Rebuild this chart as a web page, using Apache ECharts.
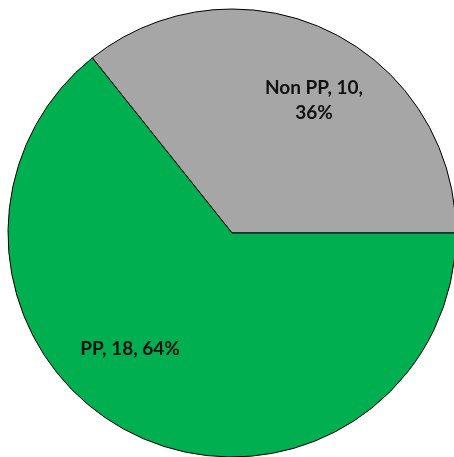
<!DOCTYPE html>
<html>
<head>
<meta charset="utf-8">
<script src="https://cdn.jsdelivr.net/npm/echarts@6/dist/echarts.min.js"></script>
<style>
  html, body { margin: 0; padding: 0; background: #fff; }
  #chart { width: 454px; height: 457px; }
</style>
</head>
<body>
<div id="chart"></div>
<script>
// data
const categories = ['Non PP', 'PP']
const values = [10, 18]
const colors = ['#A6A6A6', '#00B050']

// label spots, relative to pie centre in units of radius
const labelSpots = [[0.366, -0.594], [-0.455, 0.518]]

const cx = 232, cy = 233, r = 224

const chart = echarts.init(document.getElementById('chart'))
chart.setOption({
    animation: false,
    series: [{
        type: 'pie',
        center: [cx, cy],
        radius: r,
        startAngle: 0,
        clockwise: false,
        percentPrecision: 0,
        itemStyle: { borderColor: '#000', borderWidth: 1 },
        label: {
            position: 'inside',
            color: '#111',
            fontFamily: 'Lato',
            fontWeight: 'bold',
            fontSize: 19,
            lineHeight: 25,
            align: 'center'
        },
        labelLine: { show: false },
        labelLayout: (p) => {
            const s = labelSpots[p.dataIndex]
            return { x: cx + s[0] * r, y: cy + s[1] * r }
        },
        data: categories.map((name, i) => ({
            name,
            value: values[i],
            itemStyle: { color: colors[i] },
            label: { formatter: i === 0 ? '{b}, {c},\n{d}%' : '{b}, {c}, {d}%' }
        }))
    }]
})
</script>
</body>
</html>
